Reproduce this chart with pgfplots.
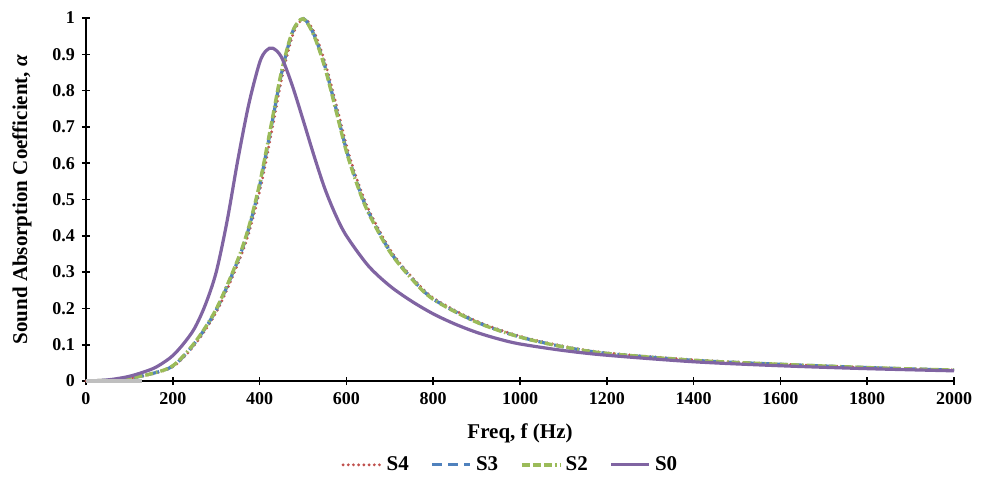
\documentclass[border=0pt]{standalone}
\usepackage{fontspec}
\setmainfont{Liberation Serif}
\usepackage{pgfplots}
\pgfplotsset{compat=1.18}
\usetikzlibrary{calc}
\definecolor{sRed}{RGB}{192,80,77}
\definecolor{sBlue}{RGB}{79,129,189}
\definecolor{sGreen}{RGB}{155,187,89}
\definecolor{sPurple}{RGB}{128,100,162}
\begin{document}
\begin{tikzpicture}
\begin{axis}[
    name=ax,
    scale only axis,
    width=434pt, height=181.5pt,
    xmin=0, xmax=2000, ymin=0, ymax=1,
    xtick={0,200,...,2000},
    ytick={0,0.1,...,1},
    axis lines*=left,
    axis line style={line width=1pt},
    tick align=center,
    major tick length=4pt,
    tick style={line width=0.8pt, black},
    /pgf/number format/1000 sep={},
    /pgf/number format/assume math mode=true,
    ticklabel style={font=\fontsize{9}{10}\selectfont\bfseries},
    xlabel={Freq, f (Hz)},
    ylabel={Sound Absorption Coefficient, \textit{α}},
    label style={font=\fontsize{10.5}{12}\selectfont\bfseries},
    xlabel style={at={(axis description cs:0.5,-0.143)}, anchor=center},
    ylabel style={at={(axis description cs:-0.0737,0.5)}, anchor=center},
    legend columns=4,
    legend style={draw=none, fill=none, at={(axis description cs:0.49,-0.231)}, anchor=center,
        font=\fontsize{10.5}{12}\selectfont\bfseries,
        /tikz/every even column/.append style={column sep=9pt}},
    legend image code/.code={\draw[#1] (0pt,0pt) -- (19pt,0pt);},
    clip=false,
]
% S4
\addplot[sRed, line width=1.6pt, line cap=round, dash pattern=on 0pt off 2.6pt, smooth] coordinates {
    (0,0) (54,0.002) (104,0.008) (154,0.02) (204,0.042) (254,0.105) (304,0.198) (354,0.335)
    (379,0.424) (404,0.543) (429,0.695) (454,0.85) (479,0.962) (504,0.998) (529,0.952)
    (554,0.865) (579,0.75) (604,0.632) (629,0.54) (654,0.465) (704,0.356) (754,0.282)
    (804,0.226) (904,0.163) (1004,0.122) (1104,0.095) (1204,0.077) (1404,0.058)
    (1604,0.046) (1804,0.037) (2000,0.030)
};
\addlegendentry{S4}
% S3
\addplot[sBlue, line width=1.6pt, dash pattern=on 5pt off 3pt, smooth] coordinates {
    (0,0) (51,0.002) (101,0.008) (151,0.02) (201,0.042) (251,0.105) (301,0.198) (351,0.335)
    (376,0.424) (401,0.543) (426,0.695) (451,0.85) (476,0.962) (501,0.998) (526,0.952)
    (551,0.865) (576,0.75) (601,0.632) (626,0.54) (651,0.465) (701,0.356) (751,0.282)
    (801,0.225) (901,0.162) (1001,0.121) (1101,0.094) (1201,0.076) (1401,0.057)
    (1601,0.046) (1801,0.037) (2000,0.030)
};
\addlegendentry{S3}
% S2
\addplot[sGreen, line width=1.7pt, dash pattern=on 4pt off 1.5pt on 4pt off 1.5pt on 4pt off 1.5pt on 0.8pt off 1.5pt, smooth] coordinates {
    (0,0) (50,0.002) (100,0.008) (150,0.02) (200,0.042) (250,0.105) (300,0.198) (350,0.335)
    (375,0.424) (400,0.543) (425,0.695) (450,0.85) (475,0.96) (500,0.998) (525,0.952)
    (550,0.865) (575,0.75) (600,0.632) (625,0.54) (650,0.465) (700,0.356) (750,0.282)
    (800,0.225) (900,0.162) (1000,0.121) (1100,0.094) (1200,0.076) (1400,0.057)
    (1600,0.046) (1800,0.037) (2000,0.030)
};
\addlegendentry{S2}
% S0
\addplot[sPurple, line width=1.6pt, smooth] coordinates {
    (0,0) (50,0.003) (100,0.013) (150,0.032) (175,0.048) (200,0.07) (225,0.103) (250,0.145)
    (275,0.21) (300,0.30) (325,0.44) (350,0.61) (375,0.762) (400,0.877) (415,0.91) (430,0.917)
    (450,0.893) (475,0.815) (500,0.72) (525,0.622) (550,0.531) (575,0.458) (600,0.40)
    (650,0.318) (700,0.262) (750,0.220) (800,0.185) (850,0.157) (900,0.134) (950,0.116)
    (1000,0.102) (1100,0.084) (1200,0.071) (1400,0.053) (1600,0.042) (1800,0.034) (2000,0.028)
};
\addlegendentry{S0}
\addplot[gray!50, line width=1.6pt, forget plot] coordinates {(0,0) (130,0)};
\end{axis}
\pgfresetboundingbox
\path[use as bounding box] ($(ax.south west)+(-43pt,-50.5pt)$) rectangle ($(ax.north east)+(17pt,9pt)$);
\end{tikzpicture}
\end{document}
